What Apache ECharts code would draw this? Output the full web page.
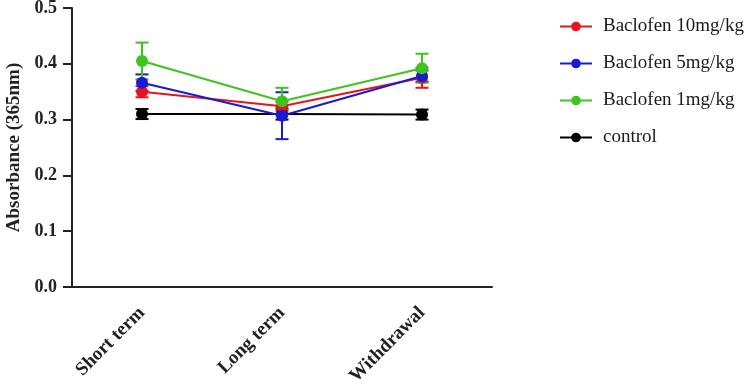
<!DOCTYPE html>
<html><head><meta charset="utf-8">
<script src="https://cdn.jsdelivr.net/npm/echarts@6/dist/echarts.min.js"></script>
<style>html,body{margin:0;padding:0;background:#fff}#c{width:750px;height:386px}</style>
</head><body><div id="c"></div>
<script>
var categories = ['Short term', 'Long term', 'Withdrawal'];
var names = ['Baclofen 10mg/kg', 'Baclofen 5mg/kg', 'Baclofen 1mg/kg', 'control'];
var colors = ['#e8141a', '#1a1ad6', '#3fc41f', '#000000'];
var baclofen10 = [0.350, 0.324, 0.375];
var baclofen10Err = [0.010, 0.008, 0.018];
var baclofen5 = [0.366, 0.307, 0.378];
var baclofen5Err = [0.015, 0.042, 0.010];
var baclofen1 = [0.405, 0.333, 0.392];
var baclofen1Err = [0.033, 0.024, 0.026];
var control = [0.310, 0.310, 0.309];
var controlErr = [0.009, 0.010, 0.009];
var yTicks = [0, 0.1, 0.2, 0.3, 0.4, 0.5];

var means = [baclofen10, baclofen5, baclofen1, control];
var errs = [baclofen10Err, baclofen5Err, baclofen1Err, controlErr];
var font = '"Liberation Serif", "Times New Roman", serif';

var series = [];
means.forEach(function (m, i) {
  series.push({
    type: 'line', name: names[i], data: m, z: 3 + (i === 3 ? 0 : 1),
    symbol: 'circle', symbolSize: 12,
    lineStyle: { color: colors[i], width: 2 },
    itemStyle: { color: colors[i] },
    emphasis: { disabled: true }
  });
});
means.forEach(function (m, i) {
  var errData = m.map(function (v, j) { return [j, v - errs[i][j], v + errs[i][j]]; });
  series.push({
    type: 'custom', name: names[i] + ' SEM', silent: true, z: 2,
    data: errData,
    renderItem: function (params, api) {
      var lo = api.coord([api.value(0), api.value(1)]);
      var hi = api.coord([api.value(0), api.value(2)]);
      var w = 6.5;
      var st = { stroke: colors[i], lineWidth: 2 };
      return { type: 'group', children: [
        { type: 'line', shape: { x1: lo[0], y1: lo[1], x2: hi[0], y2: hi[1] }, style: st },
        { type: 'line', shape: { x1: lo[0] - w, y1: lo[1], x2: lo[0] + w, y2: lo[1] }, style: st },
        { type: 'line', shape: { x1: hi[0] - w, y1: hi[1], x2: hi[0] + w, y2: hi[1] }, style: st }
      ]};
    }
  });
});

var chart = echarts.init(document.getElementById('c'));
chart.setOption({
  animation: false,
  color: colors,
  grid: { left: 72, top: 8, width: 420, height: 279, containLabel: false, outerBoundsMode: 'none' },
  legend: {
    orient: 'vertical', left: 554, top: 12, itemGap: 18,
    itemWidth: 32, itemHeight: 12,
    data: names,
    textStyle: { fontFamily: font, fontSize: 19, color: '#1a1a1a', padding: [0, 0, 0, 6] }
  },
  xAxis: {
    type: 'category', data: categories, boundaryGap: true,
    axisLine: { lineStyle: { color: '#222', width: 2 } },
    axisTick: { alignWithLabel: true, length: 8, lineStyle: { color: '#222', width: 2 } },
    axisLabel: { rotate: 45, margin: 23, fontFamily: font, fontWeight: 'bold', fontSize: 19, color: '#222' }
  },
  yAxis: {
    type: 'value', min: 0, max: 0.5, interval: 0.1,
    name: 'Absorbance (365nm)', nameLocation: 'middle', nameGap: 47,
    nameTextStyle: { fontFamily: font, fontWeight: 'bold', fontSize: 19, color: '#222' },
    splitLine: { show: false },
    axisLine: { show: true, lineStyle: { color: '#222', width: 2 } },
    axisTick: { show: true, length: 9, lineStyle: { color: '#222', width: 2 } },
    axisLabel: { fontFamily: font, fontWeight: 'bold', fontSize: 18, color: '#222', margin: 15,
      formatter: function (v) { return v.toFixed(1); } }
  },
  series: series
});
</script></body></html>
